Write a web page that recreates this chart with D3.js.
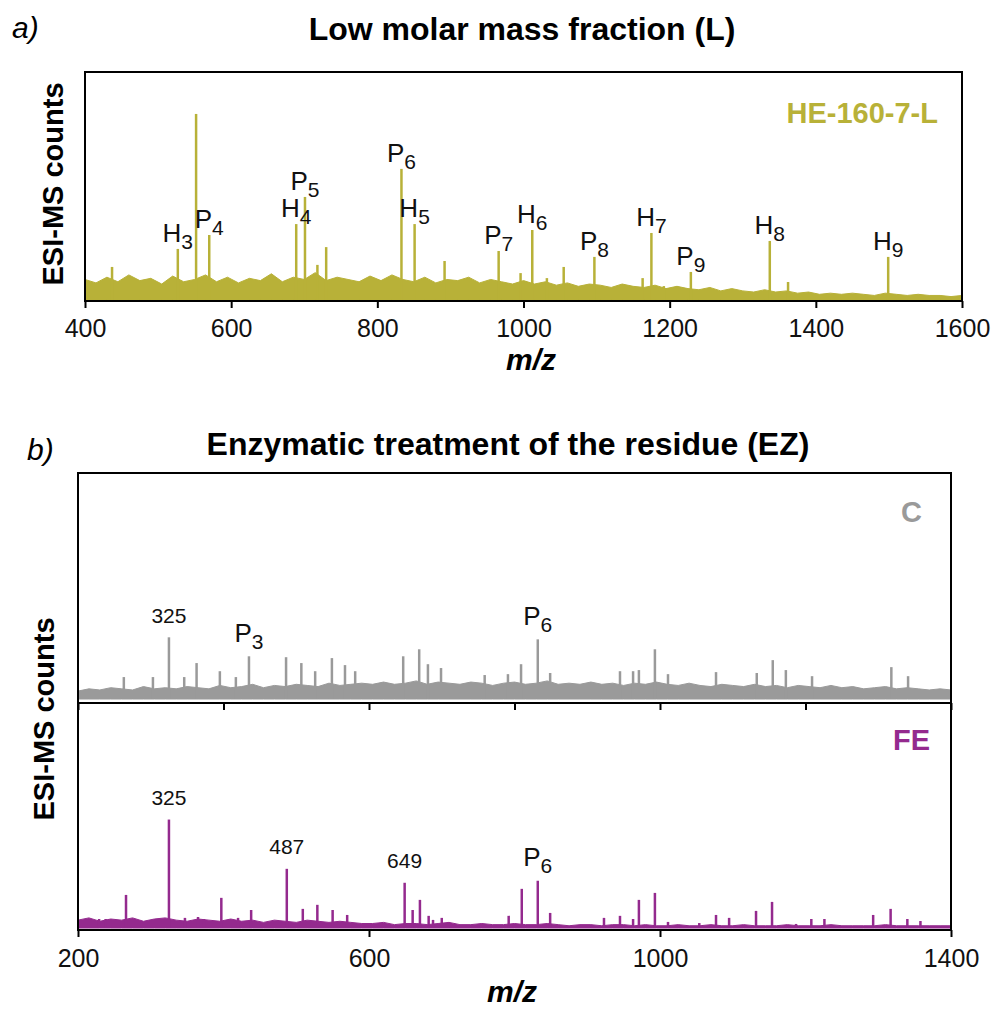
<!DOCTYPE html>
<meta charset="utf-8">
<script src="https://d3js.org/d3.v7.min.js"></script>
<style>
  body { margin: 0; background: #fff; }
  text { font-family: "Liberation Sans", Arial, sans-serif; }
</style>
<div id="viz"></div>
<script>

// ---- panel a: low molar mass fraction, HE-160-7-L ----
var heMz     = [437, 527, 552, 570, 689, 701, 718, 730, 833, 851, 892, 966, 996, 1012, 1032, 1055, 1097, 1163, 1175, 1192, 1229, 1337, 1362, 1499];
var heCounts = [14.5, 22.4, 81.6, 28.5, 33.3, 45.2, 15.4, 23.2, 57.5, 33.3, 17.1, 21.5, 11.8, 30.7, 9.6, 14.5, 18.9, 9.6, 29.4, 6.1, 12.3, 25.9, 7.9, 18.9];
var heNoiseMz = [400, 415, 430, 445, 460, 475, 490, 505, 520, 535, 550, 565, 580, 595, 610, 625, 640, 655, 670, 685,
                 700, 715, 730, 745, 760, 775, 790, 805, 820, 835, 850, 865, 880, 895, 910, 925, 940, 955, 970, 985,
                 1000, 1015, 1030, 1045, 1060, 1075, 1090, 1105, 1120, 1135, 1150, 1165, 1180, 1195, 1210, 1225, 1240, 1255, 1270, 1285,
                 1300, 1315, 1330, 1345, 1360, 1375, 1390, 1405, 1420, 1435, 1450, 1465, 1480, 1495, 1510, 1525, 1540, 1555, 1570, 1585, 1600];
var heNoise   = [9, 7.5, 10, 8, 11, 8.5, 9.5, 7, 10.5, 8, 9, 11, 8, 10, 7.5, 9.5, 8.5, 11.5, 8, 10,
                 9, 12, 8.5, 10, 9, 8, 10.5, 8.5, 11, 9, 8, 10, 7.5, 9, 8.5, 10, 7.5, 9, 8, 7,
                 8.5, 7, 8, 6.5, 7.5, 6, 7, 6.5, 5.5, 7, 6, 5.5, 6.5, 5, 6, 5, 4.5, 5.5, 4, 5,
                 4, 3.5, 4.5, 3.5, 4, 3, 3.5, 2.5, 3, 2.5, 3, 2.5, 2, 3, 2.5, 2, 2.5, 2, 2, 1.5, 2];
var heLabelMain = ["H", "P", "H", "P", "P", "H", "P", "H", "P", "H", "P", "H", "H"];
var heLabelSub  = ["3", "4", "4", "5", "6", "5", "7", "6", "8", "7", "9", "8", "9"];
var heLabelMz   = [527, 570, 689, 701, 833, 851, 966, 1012, 1097, 1175, 1229, 1337, 1499];
var topTicks = [400, 600, 800, 1000, 1200, 1400, 1600];

// ---- panel b: enzymatic treatment, control C ----
var cMz     = [263, 303, 325, 346, 363, 395, 417, 435, 486, 507, 526, 549, 567, 581, 647, 669, 681, 699, 759, 791, 809, 832, 849, 945, 963, 971, 993, 1011, 1077, 1133, 1155, 1173, 1209, 1318, 1341];
var cCounts = [9.7, 9.7, 27.3, 9.7, 15.9, 12.3, 9.7, 18.9, 18.5, 15.9, 12.3, 18.1, 15.0, 12.3, 18.9, 22.0, 15.4, 13.7, 10.6, 11.0, 15.4, 26.4, 11.5, 12.3, 12.3, 12.8, 22.0, 11.0, 11.9, 11.5, 17.2, 12.8, 10.1, 14.1, 10.1];
var bNoiseMz = [200, 215, 230, 245, 260, 275, 290, 305, 320, 335, 350, 365, 380, 395, 410, 425, 440, 455, 470, 485,
                500, 515, 530, 545, 560, 575, 590, 605, 620, 635, 650, 665, 680, 695, 710, 725, 740, 755, 770, 785,
                800, 815, 830, 845, 860, 875, 890, 905, 920, 935, 950, 965, 980, 995, 1010, 1025, 1040, 1055, 1070, 1085,
                1100, 1115, 1130, 1145, 1160, 1175, 1190, 1205, 1220, 1235, 1250, 1265, 1280, 1295, 1310, 1325, 1340, 1355, 1370, 1385, 1400];
var cNoise = [3.5, 4.5, 4, 5, 4.5, 4, 5.5, 4.5, 5, 4.5, 5.5, 5, 4.5, 6, 5, 5.5, 6.5, 5, 6, 5.5,
              6.5, 6, 5.5, 7, 6, 6.5, 7, 6.5, 7.5, 6.5, 7, 8, 6.5, 7.5, 7, 6.5, 7.5, 7, 6, 7,
              7.5, 6.5, 7, 8, 6.5, 7, 6.5, 7.5, 6.5, 7, 6, 7, 6.5, 7.5, 6.5, 6, 7, 6, 5.5, 6.5,
              6, 5.5, 6.5, 5.5, 6, 5, 6, 5.5, 5, 6, 5, 5.5, 4.5, 5, 5.5, 4.5, 5, 4.5, 4, 4.5, 4];
var cLabelMain = ["325", "P", "P"];
var cLabelSub  = ["", "3", "6"];
var cLabelMz   = [325, 435, 832];
var cTicks  = [200, 400, 600, 800, 1000, 1200, 1400];

// ---- panel b: enzymatic treatment, FE ----
var feMz     = [229, 238, 266, 325, 347, 365, 373, 397, 420, 438, 487, 509, 529, 550, 570, 649, 660, 670, 682, 688, 700, 792, 810, 832, 849, 923, 945, 963, 971, 993, 1011, 1054, 1077, 1095, 1132, 1154, 1187, 1208, 1226, 1293, 1317, 1340, 1358];
var feCounts = [4.0, 4.0, 14.7, 48.2, 4.5, 4.9, 4.0, 13.4, 4.5, 8.0, 26.3, 8.5, 10.3, 8.0, 5.8, 20.1, 8.0, 12.5, 5.4, 3.6, 4.5, 5.4, 17.4, 21.0, 6.7, 4.5, 5.4, 4.0, 12.5, 15.6, 2.7, 2.2, 5.8, 4.5, 7.6, 11.6, 1.8, 4.0, 4.0, 5.8, 8.5, 4.0, 3.1];
var feNoise = [3.5, 4.5, 3, 4, 3.5, 4.5, 3, 4, 4.5, 3.5, 3, 4, 3.5, 3, 4, 3, 3.5, 2.5, 3.5, 3,
               2.5, 3.5, 3, 2.5, 3, 2.5, 2, 2, 2.5, 1.5, 2, 2, 1.5, 2, 2.5, 1.5, 1.5, 2, 1.5, 1.5,
               2, 1.5, 1.5, 2, 1.5, 1, 1.5, 1.5, 1, 1.5, 1.5, 1, 1.5, 1, 1, 1.5, 1, 1, 1.5, 1,
               1, 1.5, 1, 1, 1, 1.5, 1, 1, 1, 1.5, 1, 1, 1, 1, 1.5, 1, 1, 1, 1, 1, 1];
var feLabelMain = ["325", "487", "649", "P"];
var feLabelSub  = ["", "", "", "6"];
var feLabelMz   = [325, 487, 649, 832];
var feTicks = [200, 600, 1000, 1400];

var olive = "#b8b138", grey = "#9a9a9a", purple = "#942a8e";

var svg = d3.select("#viz")
  .append("svg")
    .attr("width", 993)
    .attr("height", 1011);

function drawPanel(p) {
  var g = svg.append("g");
  var base = p.y(0);

  var area = d3.area()
    .x(function (d) { return p.x(d[0]); })
    .y0(base)
    .y1(function (d) { return p.y(d[1]); });
  g.append("path")
    .datum(d3.zip(p.noiseMz, p.noise))
    .attr("d", area)
    .attr("fill", p.color)
    .attr("stroke", p.color)
    .attr("stroke-width", 1);

  g.selectAll(".peak")
    .data(d3.zip(p.mz, p.counts))
    .join("line")
      .attr("class", "peak")
      .attr("x1", function (d) { return p.x(d[0]); })
      .attr("x2", function (d) { return p.x(d[0]); })
      .attr("y1", base)
      .attr("y2", function (d) { return p.y(d[1]); })
      .attr("stroke", p.color)
      .attr("stroke-width", 2.5);

  // peak labels
  p.labelMz.forEach(function (m, i) {
    var h = p.counts[p.mz.indexOf(m)];
    var t = g.append("text")
      .attr("x", p.x(m))
      .attr("y", p.y(h) - p.gap)
      .attr("text-anchor", "middle")
      .attr("fill", "#111");
    if (p.labelSub[i] === "") {
      t.attr("font-size", 21).text(p.labelMain[i]);
    } else {
      t.attr("font-size", 26);
      t.append("tspan").text(p.labelMain[i]);
      t.append("tspan").attr("font-size", 21).attr("dy", 7).text(p.labelSub[i]);
    }
  });

  // sample tag
  g.append("text")
    .attr("x", p.tagX)
    .attr("y", p.tagY)
    .attr("text-anchor", "end")
    .attr("font-size", 29)
    .attr("font-weight", "bold")
    .attr("fill", p.color)
    .text(p.tag);

  // axis
  var ax = g.append("g")
    .attr("transform", "translate(0," + p.bottom + ")")
    .call(d3.axisBottom(p.x)
      .tickValues(p.ticks)
      .tickSize(7)
      .tickSizeOuter(0)
      .tickPadding(p.pad)
      .tickFormat(p.showTicks ? d3.format("d") : ""));
  ax.select(".domain").remove();
  ax.selectAll(".tick line").attr("stroke", "#000").attr("stroke-width", 2);
  ax.selectAll(".tick text")
    .attr("font-size", 25)
    .attr("font-family", "Liberation Sans, Arial, sans-serif")
    .attr("fill", "#111");

  g.append("rect")
    .attr("x", p.x.range()[0])
    .attr("y", p.top)
    .attr("width", p.x.range()[1] - p.x.range()[0])
    .attr("height", p.bottom - p.top)
    .attr("fill", "none")
    .attr("stroke", "#000")
    .attr("stroke-width", 2);
}

// ---- panel a ----
var xTop = d3.scaleLinear().domain([400, 1600]).range([85, 962]);
var yTop = d3.scaleLinear().domain([0, 100]).range([300, 72]);
drawPanel({
  x: xTop, y: yTop, top: 72, bottom: 301, color: olive,
  mz: heMz, counts: heCounts, noiseMz: heNoiseMz, noise: heNoise,
  labelMain: heLabelMain, labelSub: heLabelSub, labelMz: heLabelMz, gap: 7,
  tag: "HE-160-7-L", tagX: 938, tagY: 123,
  ticks: topTicks, showTicks: true, pad: 11
});

// ---- panel b ----
var xBot = d3.scaleLinear().domain([200, 1400]).range([78, 951]);
var yC  = d3.scaleLinear().domain([0, 100]).range([699, 473]);
var yFE = d3.scaleLinear().domain([0, 100]).range([928, 703]);
drawPanel({
  x: xBot, y: yC, top: 473, bottom: 703, color: grey,
  mz: cMz, counts: cCounts, noiseMz: bNoiseMz, noise: cNoise,
  labelMain: cLabelMain, labelSub: cLabelSub, labelMz: cLabelMz, gap: 14,
  tag: "C", tagX: 922, tagY: 522,
  ticks: cTicks, showTicks: false, pad: 3
});
drawPanel({
  x: xBot, y: yFE, top: 703, bottom: 930, color: purple,
  mz: feMz, counts: feCounts, noiseMz: bNoiseMz, noise: feNoise,
  labelMain: feLabelMain, labelSub: feLabelSub, labelMz: feLabelMz, gap: 15,
  tag: "FE", tagX: 930, tagY: 750,
  ticks: feTicks, showTicks: true, pad: 12
});

// titles and axis titles
svg.append("text").attr("x", 12).attr("y", 38)
  .attr("font-size", 30).attr("font-style", "italic").text("a)");
svg.append("text").attr("x", 27).attr("y", 460)
  .attr("font-size", 30).attr("font-style", "italic").text("b)");

svg.append("text").attr("x", 522).attr("y", 40)
  .attr("text-anchor", "middle").attr("font-size", 32).attr("font-weight", "bold")
  .text("Low molar mass fraction (L)");
svg.append("text").attr("x", 508).attr("y", 455)
  .attr("text-anchor", "middle").attr("font-size", 32).attr("font-weight", "bold")
  .text("Enzymatic treatment of the residue (EZ)");

svg.append("text").attr("x", 531).attr("y", 370)
  .attr("text-anchor", "middle").attr("font-size", 30)
  .attr("font-weight", "bold").attr("font-style", "italic").text("m/z");
svg.append("text").attr("x", 512).attr("y", 1002)
  .attr("text-anchor", "middle").attr("font-size", 30)
  .attr("font-weight", "bold").attr("font-style", "italic").text("m/z");

svg.append("text")
  .attr("transform", "translate(63,184) rotate(-90)")
  .attr("text-anchor", "middle").attr("font-size", 29).attr("font-weight", "bold")
  .text("ESI-MS counts");
svg.append("text")
  .attr("transform", "translate(54,719) rotate(-90)")
  .attr("text-anchor", "middle").attr("font-size", 29).attr("font-weight", "bold")
  .text("ESI-MS counts");

</script>
